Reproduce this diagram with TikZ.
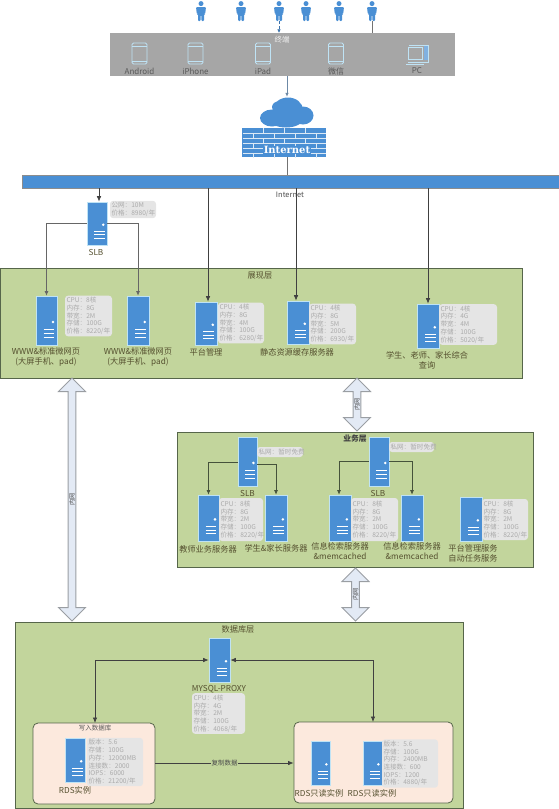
\documentclass[tikz,border=0pt]{standalone}
\usepackage{fontspec}
\setmainfont{Noto Sans CJK SC}
\newfontfamily\wallfont{DejaVu Serif}
\usetikzlibrary{arrows.meta,shapes.arrows,calc}
\definecolor{srvblue}{HTML}{4A8FD4}
\definecolor{srvedge}{HTML}{BFE3F5}
\definecolor{layergreen}{HTML}{C2D59C}
\definecolor{layeredge}{HTML}{56664A}
\definecolor{termgray}{HTML}{A6A6A6}
\definecolor{peach}{HTML}{FCE9DD}
\definecolor{infofill}{HTML}{E5E5E5}
\definecolor{infotext}{HTML}{ABABAB}
\definecolor{labeltext}{HTML}{55502F}
\definecolor{arrowfill}{HTML}{E3EAF5}
\definecolor{arrowedge}{HTML}{9A9EA3}
\tikzset{
  layerbox/.style={draw=layeredge,fill=layergreen,line width=0.8pt,inner sep=0pt},
  srvbox/.style={draw=srvedge,fill=srvblue,line width=0.7pt,inner sep=0pt},
  specbox/.style={fill=infofill,rounded corners=3pt,text=infotext,inner sep=1.5pt,align=left,font=\fontsize{6.6}{7.7}\selectfont},
  lbl/.style={text=labeltext,inner sep=0pt,align=center,font=\fontsize{8.2}{10}\selectfont},
  conn/.style={draw=layeredge!80!black,line width=0.7pt,-{Latex[length=4.5pt,width=4pt]}},
  connb/.style={draw=black!75,line width=0.7pt,-{Latex[length=5.5pt,width=4.5pt]}},
  both/.style={draw=black!75,line width=0.7pt,{Latex[length=5.5pt,width=4.5pt]}-{Latex[length=5.5pt,width=4.5pt]}},
  dbl/.style={double arrow,draw=arrowedge,fill=arrowfill,line width=1pt,inner sep=0pt,rotate=90,
    minimum width=27pt,double arrow head extend=8.5pt,double arrow tip angle=90,
    font=\fontsize{6.2}{7}\selectfont,text=black!70},
  rdsbox/.style={draw=layeredge,fill=peach,rounded corners=5pt,line width=0.8pt,inner sep=0pt},
  phone/.style={draw=srvedge,line width=0.8pt,rounded corners=1.5pt,inner sep=0pt,minimum width=15pt,minimum height=21pt},
  personmark/.style={inner sep=0pt,minimum width=11pt,minimum height=20pt},
}
\newcommand\srv[5]{%
  \pgfmathsetmacro\srvw{#4-#2}\pgfmathsetmacro\srvh{#5-#3}%
  \node[srvbox,minimum width=\srvw pt,minimum height=\srvh pt] (#1) at ({(#2+#4)/2},{(#3+#5)/2}) {};
  \begin{scope}[shift={(#2,#3)},x=\srvw pt,y=-\srvh pt]
    \fill[white] (0.81,0.53) circle (1.4pt);
    \draw[white,line width=0.8pt] (0.36,0.69) -- (0.88,0.69) (0.36,0.765) -- (0.88,0.765) (0.36,0.84) -- (0.88,0.84);
  \end{scope}}
\newcommand\spec[6]{%
  \pgfmathsetmacro\srvw{#4-#2}\pgfmathsetmacro\srvh{#5-#3}%
  \node[specbox,minimum width=\srvw pt,minimum height=\srvh pt,text width=\srvw pt-3pt] (#1) at ({(#2+#4)/2},{(#3+#5)/2}) {#6};}
\newcommand\cfg[5]{CPU：#1\\内存：#2\\带宽：#3\\存储：#4\\价格：#5/年}
\newcommand\rds[4]{版本：5.6\\存储：100G\\内存：#1\\连接数：#2\\IOPS：#3\\价格：#4/年}
\newcommand\person[2]{%
  \node[personmark] (#1) at (#2,11) {};
  \fill[srvblue] (#2,3.6) circle (2.5pt);
  \fill[srvblue,rounded corners=1pt] ({#2-5},7) -- ({#2+5},7) -- ({#2+4.2},14) -- ({#2+3},14) -- ({#2+3},21) -- ({#2+0.5},21) -- ({#2+0.3},15) -- ({#2-0.3},15) -- ({#2-0.5},21) -- ({#2-3},21) -- ({#2-3},14) -- ({#2-4.2},14) -- cycle;}
\newcommand\device[3]{%
  \node[phone] (#1) at (#2,53.5) {};
  \draw[srvedge,line width=0.6pt] ({#2-7.5},46) -- ({#2+7.5},46) ({#2-7.5},61) -- ({#2+7.5},61);
  \node[lbl,font=\fontsize{8}{10}\selectfont,text=black!65] (#1t) at (#2,71) {#3};}
\begin{document}
\begin{tikzpicture}[x=1pt,y=-1pt]
\useasboundingbox (0,0) rectangle (559,809);
\person{p1}{201}\person{p2}{241}\person{p3}{279}\person{p4}{306}\person{p5}{339}\person{p6}{372}
\node[fill=termgray,inner sep=0pt,minimum width=345pt,minimum height=43pt] (term) at (282.5,54.5) {};
\node[lbl,text=white!85!termgray,font=\fontsize{7.5}{9}\selectfont] (termt) at (282,40) {终端};
\device{d1}{139.5}{Android}
\device{d2}{195.5}{iPhone}
\device{d3}{263}{iPad}
\device{d4}{336}{微信}
\node[draw=srvedge,line width=0.8pt,inner sep=0pt,minimum width=14pt,minimum height=12pt] (d5) at (415,53) {};
\draw[srvedge,line width=0.7pt] (409,45) -- (428,45) -- (428,62) -- (422,62) (408,62) -- (423,62) (406,64) -- (424,64);
\fill[srvblue!70] (424,45.5) rectangle (427.5,60);
\node[lbl,font=\fontsize{8}{10}\selectfont,text=black!65] (d5t) at (417,71) {PC};
\draw[densely dashed,draw=srvblue!80!black,line width=0.6pt,-{Latex[length=3.5pt,width=3.5pt]}] (p3.south) -- (p3.south |- term.north);
\draw[draw=black!55,line width=0.8pt] (p6.south) -- (p6.south |- term.north);
% cloud + firewall
\fill[srvblue] (272,118) ellipse (12pt and 8.5pt)
  (303,115.5) ellipse (10.5pt and 9pt)
  (288,110) ellipse (15pt and 12.5pt)
  (286,119) ellipse (17pt and 8.5pt)
  (280,107) ellipse (8pt and 6pt);
\node[inner sep=0pt,minimum width=54pt,minimum height=30pt] (cl) at (287,112) {};
\node[fill=srvblue,inner sep=0pt,minimum width=83.5pt,minimum height=29pt] (fw) at (284,142.5) {};
\foreach \yy in {133,138,143,148,153}
  \draw[white!80!srvblue,line width=0.5pt] (242.5,\yy) -- (325.5,\yy);
\foreach \xx in {263,284,305}
  \foreach \yy in {128,138,148}
    \draw[white!80!srvblue,line width=0.5pt] (\xx,\yy) -- (\xx,{\yy+5});
\foreach \xx in {253,274,295,316}
  \foreach \yy in {133,143,153}
    \draw[white!80!srvblue,line width=0.5pt] (\xx,\yy) -- (\xx,{\yy+5});
\node[text=white,fill=srvblue,inner xsep=1pt,inner ysep=0.5pt,font=\wallfont\bfseries\fontsize{10}{11}\selectfont] (fwt) at (287,150) {Internet};
\draw[draw=srvblue!60!black!70,line width=0.7pt,-{Latex[length=4pt,width=3.5pt]}] (cl.north |- term.south) -- (cl.north);
% bar
\node[draw=black!45,fill=srvblue,line width=0.7pt,inner sep=0pt,minimum width=537pt,minimum height=13pt] (bar) at (290.5,181.5) {};
\draw[draw=black!55,line width=0.8pt] (fw.south -| cl.north) -- (bar.north -| cl.north);
\node[lbl,text=black!70,font=\fontsize{7.5}{9}\selectfont] (bart) at (290,195) {Internet};
% layers
\node[layerbox,minimum width=522pt,minimum height=110pt] (lay1) at (261,323) {};
\node[lbl] (lay1t) at (260,276) {展现层};
\node[layerbox,minimum width=356pt,minimum height=135pt] (lay2) at (355,499.5) {};
\node[lbl,font=\bfseries\fontsize{7.8}{9}\selectfont,text=black!75] (lay2t) at (355,439) {业务层};
\node[layerbox,minimum width=448pt,minimum height=186pt] (lay3) at (239,715) {};
\node[lbl] (lay3t) at (238,629) {数据库层};
% double arrows
\node[dbl,minimum height=53pt] (da1) at (357,404.5) {内网};
\node[dbl,minimum height=53pt] (da2) at (355.5,594.5) {内网};
\node[dbl,minimum height=243pt] (da3) at (72,499.5) {内网};
% top SLB
\srv{slb}{87}{202}{107}{245}
\spec{slbs}{110}{201}{156}{218}{公网：10M\\价格：8980/年}
\node[lbl] (slbt) at (96,252) {SLB};
% display layer
\srv{s1}{36}{296}{57}{345}
\spec{s1s}{65}{296}{112}{336}{\cfg{8核}{8G}{2M}{100G}{8220}}
\node[lbl] (s1t) at (46,357) {WWW\&标准微网页\\(大屏手机、pad)};
\srv{s2}{127}{296}{149}{345}
\node[lbl] (s2t) at (138,357) {WWW\&标准微网页\\(大屏手机、pad)};
\srv{s3}{195}{302}{217}{345}
\spec{s3s}{218}{304}{264}{342}{\cfg{4核}{8G}{4M}{100G}{6280}}
\node[lbl] (s3t) at (206,352) {平台管理};
\srv{s4}{287}{301}{309}{344}
\spec{s4s}{309}{304}{356}{344}{\cfg{4核}{8G}{5M}{200G}{6930}}
\node[lbl] (s4t) at (297,352) {静态资源缓存服务器};
\srv{s5}{417}{304}{439}{348}
\spec{s5s}{439}{305}{497}{344}{\cfg{4核}{4G}{4M}{100G}{5020}}
\node[lbl] (s5t) at (427,360.5) {学生、老师、家长综合\\查询};
% business layer
\srv{slba}{238}{437}{257}{486}
\spec{slbas}{257}{447}{303}{457}{私网：暂时免费}
\node[lbl] (slbat) at (247.5,493) {SLB};
\srv{slbb}{369}{437}{389}{486}
\spec{slbbs}{389}{442}{434}{452}{私网：暂时免费}
\node[lbl] (slbbt) at (378,493) {SLB};
\srv{b1}{198}{495}{219}{541}
\spec{b1s}{219}{498}{263}{541}{\cfg{8核}{8G}{2M}{100G}{8220}}
\node[lbl] (b1t) at (208,549) {教师业务服务器};
\srv{b2}{265}{495}{287}{541}
\node[lbl] (b2t) at (276,548) {学生\&家长服务器};
\srv{b3}{329}{495}{351}{541}
\spec{b3s}{351}{498}{398}{541}{\cfg{8核}{8G}{2M}{100G}{8220}}
\node[lbl] (b3t) at (340,551.5) {信息检索服务器\\\&memcached};
\srv{b4}{401}{495}{423}{541}
\node[lbl] (b4t) at (412,551.5) {信息检索服务器\\\&memcached};
\srv{b5}{460}{497}{482}{541}
\spec{b5s}{482}{499}{528}{540}{\cfg{8核}{8G}{2M}{100G}{8220}}
\node[lbl,align=left] (b5t) at (473,553) {平台管理服务\\自动任务服务};
% database layer
\srv{px}{209}{638}{230}{682}
\node[lbl] (pxt) at (219,689) {MYSQL-PROXY};
\spec{pxs}{192}{694}{245}{733}{\cfg{4核}{4G}{2M}{100G}{4068}}
\node[rdsbox,minimum width=122pt,minimum height=81pt] (rds1) at (94,763.5) {};
\node[lbl,font=\fontsize{6.5}{8}\selectfont,text=black!65] (rds1t) at (95,728) {写入数据库};
\srv{r1}{65}{738}{85}{782}
\spec{r1s}{87}{740}{143}{784}{\rds{12000MB}{2000}{6000}{21200}}
\node[lbl] (r1t) at (75,790) {RDS实例};
\node[rdsbox,minimum width=159pt,minimum height=81pt] (rds2) at (373.5,762.5) {};
\srv{r2}{311}{741}{330}{785}
\node[lbl] (r2t) at (319,793) {RDS只读实例};
\srv{r3}{363}{741}{382}{785}
\spec{r3s}{382}{741}{438}{786}{\rds{2400MB}{600}{1200}{4880}}
\node[lbl] (r3t) at (372,793) {RDS只读实例};
% connectors
\draw[connb] ([xshift=2pt]slb.north |- bar.south) -- ([xshift=2pt]slb.north);
\draw[conn,draw=black!60] (slb.west |- 0,223) -- (s1.north |- 0,223) -- (s1.north);
\draw[conn,draw=black!60] (slb.east |- 0,223) -- (s2.north |- 0,223) -- (s2.north);
\draw[connb] ([xshift=2pt]s3.north |- bar.south) -- ([xshift=2pt]s3.north);
\draw[connb] ([xshift=-2pt]s4.north |- bar.south) -- ([xshift=-2pt]s4.north);
\draw[connb] (s5.north |- bar.south) -- (s5.north);
\draw[conn] (slba.west |- 0,462) -- (b1.north |- 0,462) -- (b1.north);
\draw[conn] (slba.east |- 0,464) -- (b2.north |- 0,464) -- (b2.north);
\draw[conn] (slbb.west |- 0,461) -- ([xshift=-1pt]b3.north |- 0,461) -- ([xshift=-1pt]b3.north);
\draw[conn] (slbb.east |- 0,461) -- (b4.north |- 0,461) -- (b4.north);
\draw[both] (px.west) -- (95,660) -- (95,723);
\draw[both] (px.east) -- (373,660) -- (373,722);
\draw[connb] (rds1.east |- 0,763) -- (rds2.west |- 0,763) node[pos=0.5,fill=layergreen,inner sep=0.5pt,text=black!70,font=\fontsize{6.5}{8}\selectfont] (copy) {复制数据};
\end{tikzpicture}
\end{document}
